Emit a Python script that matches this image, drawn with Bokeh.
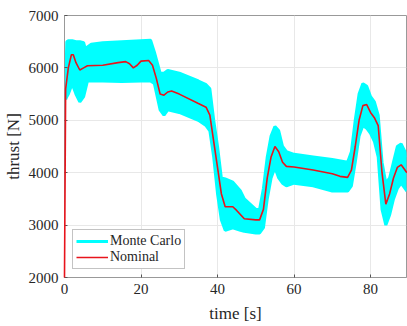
from bokeh.plotting import figure
from bokeh.models import ColumnDataSource, Range1d, Legend, LegendItem, FixedTicker
from bokeh.embed import file_html
from bokeh.resources import INLINE

# Nominal thrust trajectory
nom_t = [0, 0.3, 1, 1.8, 2.3, 3, 4, 5, 6, 10, 14, 16, 17, 18, 19, 20, 22, 23, 24, 25, 26, 27, 28,
         30, 35, 37, 38, 39, 40, 41, 42, 43, 44, 45, 47, 50, 51, 52, 53, 54, 55, 56, 57, 58, 60,
         65, 70, 72, 74, 75, 76, 77, 78, 79, 80, 81, 82, 83, 84, 85, 86, 87, 88, 89, 89.5]
nom_y = [2000, 5600, 6000, 6250, 6250, 6100, 5960, 6000, 6040, 6050, 6100, 6120, 6080, 6000, 6050,
         6130, 6140, 6050, 5800, 5500, 5480, 5540, 5560, 5500, 5320, 5250, 5100, 4600, 4100, 3600,
         3350, 3350, 3350, 3280, 3120, 3100, 3100, 3300, 3900, 4300, 4500, 4400, 4200, 4120, 4110,
         4050, 3980, 3930, 3910, 4050, 4500, 5000, 5280, 5300, 5150, 5050, 4900, 4000, 3400, 3600,
         3900, 4100, 4150, 4050, 4000]

# Monte Carlo envelope (upper / lower)
mc_t = [0.3, 0.6, 1, 2, 3, 4, 5, 5.5, 6, 7, 10, 15, 20, 22.5, 23.5, 25, 26, 27, 30, 35, 37, 38, 39,
        40, 41, 42, 44, 46, 47, 50, 51, 52, 53, 54, 55, 56, 57, 58, 60, 65, 70, 74, 75, 76, 77,
        78, 79, 80, 81, 82, 83, 84, 85, 86, 87, 88, 89, 89.5]
mc_hi = [5600, 6500, 6520, 6520, 6500, 6500, 6480, 6350, 6400, 6450, 6480, 6500, 6520, 6530, 6300,
         5900, 5900, 5950, 5900, 5750, 5680, 5600, 5000, 4500, 3900, 3880, 3820, 3650, 3500, 3300,
         3300, 3700, 4300, 4700, 4880, 4800, 4500, 4400, 4350, 4300, 4250, 4200, 4400, 5000, 5500,
         5700, 5650, 5450, 5350, 5100, 4200, 3800, 3900, 4200, 4500, 4550, 4400, 4300]
mc_lo = [5400, 5450, 5500, 5700, 5500, 5350, 5450, 5600, 5750, 5750, 5750, 5740, 5750, 5750, 5700,
         5200, 5100, 5200, 5150, 5000, 4900, 4800, 4300, 3600, 3100, 2900, 2950, 2900, 2880, 2850,
         2850, 2950, 3500, 3900, 4100, 3900, 3800, 3750, 3800, 3750, 3650, 3650, 3750, 4200, 4700,
         4900, 4850, 4750, 4600, 4300, 3300, 3000, 3200, 3500, 3700, 3800, 3700, 3650]

x_ticks = [0, 20, 40, 60, 80]
y_ticks = [2000, 3000, 4000, 5000, 6000, 7000]

FONT = "Liberation Serif"
TXT = "#262626"

p = figure(width=407, height=326, output_backend="svg", toolbar_location=None,
           x_range=Range1d(0, 89.4), y_range=Range1d(2000, 7000),
           min_border_left=64, min_border_right=1, min_border_top=15, min_border_bottom=49)

mc = ColumnDataSource(dict(t=mc_t, hi=mc_hi, lo=mc_lo))
nom = ColumnDataSource(dict(t=nom_t, y=nom_y))

p.varea(x="t", y1="lo", y2="hi", source=mc, fill_color="#00ffff", fill_alpha=1.0)
r_hi = p.line(x="t", y="hi", source=mc, line_color="#00ffff", line_width=3)
p.line(x="t", y="lo", source=mc, line_color="#00ffff", line_width=3)
r_nom = p.line(x="t", y="y", source=nom, line_color="#e8141c", line_width=1.6, level="overlay")

legend = Legend(items=[LegendItem(label="Monte Carlo", renderers=[r_hi]),
                       LegendItem(label="Nominal", renderers=[r_nom])],
                location="bottom_left", label_text_font=FONT, label_text_font_size="14px",
                label_text_color=TXT, glyph_width=32, glyph_height=12, label_height=12,
                spacing=0, padding=3, margin=8, label_standoff=2,
                border_line_color="#888888", border_line_width=1,
                background_fill_color="white", background_fill_alpha=1.0)
p.add_layout(legend, "center")

p.xaxis.ticker = FixedTicker(ticks=x_ticks)
p.yaxis.ticker = FixedTicker(ticks=y_ticks)
bx = p.below[0]
ly = p.left[0]
bx.axis_label = "time [s]"
ly.axis_label = "thrust [N]"
for ax in (bx, ly):
    ax.major_label_text_font = FONT
    ax.major_label_text_font_size = "15px"
    ax.major_label_text_color = TXT
    ax.axis_label_text_font = FONT
    ax.axis_label_text_font_size = "17px"
    ax.axis_label_text_font_style = "normal"
    ax.axis_label_text_color = TXT
    ax.axis_line_color = "#999999"
    ax.major_tick_line_color = "#555555"
    ax.major_tick_in = 3
    ax.major_tick_out = 0
    ax.minor_tick_line_color = None
bx.major_label_standoff = 6
ly.major_label_standoff = 6
bx.axis_label_standoff = 7
ly.axis_label_standoff = 3

p.xgrid.ticker = FixedTicker(ticks=x_ticks)
p.ygrid.ticker = FixedTicker(ticks=y_ticks)
p.grid.grid_line_color = "#e8e8e8"
p.grid.grid_line_width = 1
p.outline_line_color = "#999999"
p.outline_line_width = 1
p.background_fill_color = "white"
p.border_fill_color = "white"

open("out.html", "w").write(file_html(p, INLINE))
